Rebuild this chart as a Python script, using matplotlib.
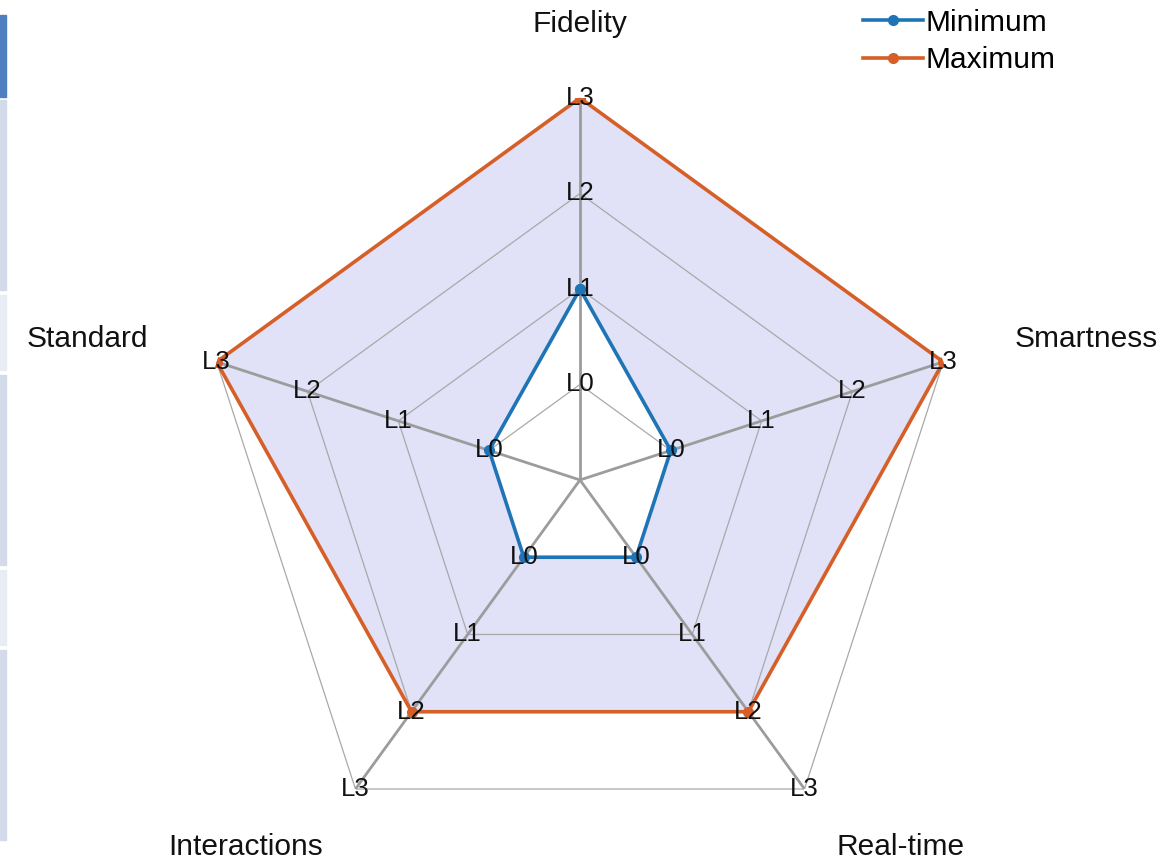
import numpy as np
import matplotlib.pyplot as plt
from matplotlib.patches import Rectangle

plt.rcParams["font.family"] = ["Liberation Sans", "DejaVu Sans"]

# Data
categories = ["Fidelity", "Smartness", "Real-time", "Interactions", "Standard"]
levels = ["L0", "L1", "L2", "L3"]
minimum = [1, 0, 0, 0, 0]
maximum = [3, 3, 2, 2, 3]

blue = "#1f74b6"
orange = "#d65f28"
grid_col = "#a9a9a9"
spoke_col = "#9c9c9c"

n = len(categories)
theta = np.arange(n) * 2 * np.pi / n
theta_c = np.append(theta, theta[0])

# level Lk sits at radius k+1 so L0 is off the center
def rad(vals):
    v = np.asarray(vals, dtype=float) + 1
    return np.append(v, v[0])

fig = plt.figure(figsize=(11.68, 8.6), dpi=100)

# side strip
strip = [(15, 97, "#4f7fc0"), (100, 290, "#d3dae9"), (295, 370, "#e8ecf4"),
         (375, 565, "#d3dae9"), (570, 645, "#e8ecf4"), (650, 840, "#d3dae9")]
for y0, y1, c in strip:
    fig.patches.append(Rectangle((0, 1 - y1 / 860), 6 / 1168, (y1 - y0) / 860,
                                 transform=fig.transFigure, color=c, zorder=0))

ax = fig.add_axes([0.1695, -0.0023, 0.6541, 0.8884], projection="polar")
ax.set_theta_offset(np.pi / 2)
ax.set_theta_direction(-1)
ax.set_ylim(0, 4)
ax.grid(False)
ax.set_xticks([])
ax.set_yticks([])
ax.spines["polar"].set_visible(False)
ax.patch.set_alpha(0)

# shaded band between the two series
ax.fill(theta_c, rad(maximum), color="#e1e1f8", zorder=1, lw=0)
ax.fill(theta_c, rad(minimum), color="white", zorder=1, lw=0)

# pentagon grid and spokes
for k in range(len(levels)):
    ax.plot(theta_c, np.full(n + 1, k + 1.0), color=grid_col, lw=0.9, zorder=2)
for t in theta:
    ax.plot([t, t], [0, len(levels)], color=spoke_col, lw=2, zorder=2)

ax.plot(theta_c, rad(minimum), color=blue, lw=2.6, marker="o", ms=7, zorder=4,
        label="Minimum")
ax.plot(theta_c, rad(maximum), color=orange, lw=2.6, marker="o", ms=7, zorder=4,
        label="Maximum")

for t in theta:
    for k, lab in enumerate(levels):
        ax.text(t, k + 1, lab, ha="center", va="center", fontsize=18.5,
                color="#111111", zorder=5)

# category labels
label_pos = [(4.63, "center", "bottom"), (4.78, "left", "center"),
             (4.57, "left", "top"), (4.57, "right", "top"),
             (4.76, "right", "center")]
for t, name, (r, ha, va) in zip(theta, categories, label_pos):
    ax.text(t, r, name, ha=ha, va=va, fontsize=21.5, color="#111111")

fig.legend(loc="upper left", bbox_to_anchor=(0.735, 0.995), frameon=False,
           fontsize=21.5, handlelength=2.0, handletextpad=0.1, labelspacing=0.32,
           borderaxespad=0, borderpad=0.15)

fig.savefig("out.png", dpi=100)
